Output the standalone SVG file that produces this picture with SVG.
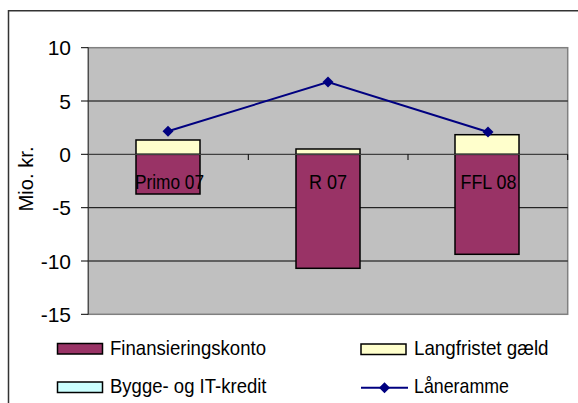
<svg xmlns="http://www.w3.org/2000/svg" width="578" height="403" viewBox="0 0 578 403">
<style>
text{font-family:"Liberation Sans",Arial,sans-serif;fill:#000}
.ylab{font-size:21px;text-anchor:end}
.cat{font-size:21px;text-anchor:middle}
.leg{font-size:21px}
.grid{stroke:#000;stroke-width:1}
.tick{stroke:#000;stroke-width:1}
.fin{fill:#993366;stroke:#000;stroke-width:1.5}
.lang{fill:#FFFFCC;stroke:#000;stroke-width:1.5}
.byg{fill:#CCFFFF;stroke:#000;stroke-width:1.5}
.ln{fill:none;stroke:#000080;stroke-width:2}
.dia{fill:#000080}
</style>
<defs>
<path id="diamond" d="M0,-5.5 L5.5,0 L0,5.5 L-5.5,0 Z" class="dia"/>
</defs>
<rect width="578" height="403" fill="#fff"/>
<g id="frame">
<path d="M8.5,403 V10.8 H578" fill="none" stroke="#333" stroke-width="1.5"/>
</g>
<g id="plot">
<rect x="88.3" y="47.7" width="479.4" height="266.6" fill="#C0C0C0" stroke="#808080" stroke-width="1.5"/>
<line class="grid" x1="88.3" y1="101" x2="567.7" y2="101"/>
<line class="grid" x1="88.3" y1="207.7" x2="567.7" y2="207.7"/>
<line class="grid" x1="88.3" y1="261" x2="567.7" y2="261"/>
</g>
<g id="y-axis">
<line x1="88.3" y1="47.7" x2="88.3" y2="314.3" stroke="#404040" stroke-width="1"/>
<line class="tick" x1="81" y1="47.7" x2="88.3" y2="47.7"/>
<line class="tick" x1="81" y1="101" x2="88.3" y2="101"/>
<line class="tick" x1="81" y1="154.3" x2="88.3" y2="154.3"/>
<line class="tick" x1="81" y1="207.7" x2="88.3" y2="207.7"/>
<line class="tick" x1="81" y1="261" x2="88.3" y2="261"/>
<line class="tick" x1="81" y1="314.3" x2="88.3" y2="314.3"/>
<text class="ylab" x="71" y="55.3">10</text>
<text class="ylab" x="71" y="108.6">5</text>
<text class="ylab" x="71" y="161.9">0</text>
<text class="ylab" x="71" y="215.3">-5</text>
<text class="ylab" x="71" y="268.6">-10</text>
<text class="ylab" x="71" y="321.9">-15</text>
<text x="0" y="0" font-size="20" text-anchor="middle" textLength="65" lengthAdjust="spacingAndGlyphs" transform="translate(33,179) rotate(-90)">Mio. kr.</text>
</g>
<g id="bar-primo07">
<rect class="fin" x="136" y="154.3" width="64" height="39.7"/>
<rect class="lang" x="136" y="140" width="64" height="14.3"/>
<text class="cat" x="169.5" y="189.3" textLength="69" lengthAdjust="spacingAndGlyphs">Primo 07</text>
</g>
<g id="bar-r07">
<rect class="fin" x="296" y="154.3" width="64" height="114"/>
<rect class="lang" x="296" y="149" width="64" height="5.3"/>
<text class="cat" x="328" y="189.3" textLength="38" lengthAdjust="spacingAndGlyphs">R 07</text>
</g>
<g id="bar-ffl08">
<rect class="fin" x="455" y="154.3" width="64" height="100"/>
<rect class="lang" x="455" y="134.7" width="64" height="19.6"/>
<text class="cat" x="488.5" y="189.3" textLength="56" lengthAdjust="spacingAndGlyphs">FFL 08</text>
</g>
<g id="x-axis">
<line x1="88.3" y1="154.3" x2="567.7" y2="154.3" stroke="#404040" stroke-width="1.2"/>
<line class="tick" x1="248.3" y1="154.3" x2="248.3" y2="160"/>
<line class="tick" x1="408" y1="154.3" x2="408" y2="160"/>
<line class="tick" x1="567.7" y1="154.3" x2="567.7" y2="160"/>
</g>
<g id="connectors">
<polyline class="ln" points="168,131.3 328,82 488,132"/>
<use href="#diamond" x="168" y="131.3"/>
<use href="#diamond" x="328" y="82"/>
<use href="#diamond" x="488" y="132"/>
</g>
<g id="legend">
<g id="legend-finansieringskonto">
<rect class="fin" x="57.5" y="343.5" width="45" height="10.5"/>
<text class="leg" x="110" y="355.3" textLength="156" lengthAdjust="spacingAndGlyphs">Finansieringskonto</text>
</g>
<g id="legend-langfristet">
<rect class="lang" x="361" y="344" width="45" height="10.5"/>
<text class="leg" x="414" y="355.3" textLength="134.5" lengthAdjust="spacingAndGlyphs">Langfristet gæld</text>
</g>
<g id="legend-bygge">
<rect class="byg" x="57.5" y="382" width="45" height="10.5"/>
<text class="leg" x="110" y="393.3" textLength="156.5" lengthAdjust="spacingAndGlyphs">Bygge- og IT-kredit</text>
</g>
<g id="legend-laaneramme">
<line class="ln" x1="361" y1="387.7" x2="408" y2="387.7"/>
<use href="#diamond" x="384.5" y="387.7"/>
<text class="leg" x="414" y="393.3" textLength="95" lengthAdjust="spacingAndGlyphs">Låneramme</text>
</g>
</g>
</svg>
